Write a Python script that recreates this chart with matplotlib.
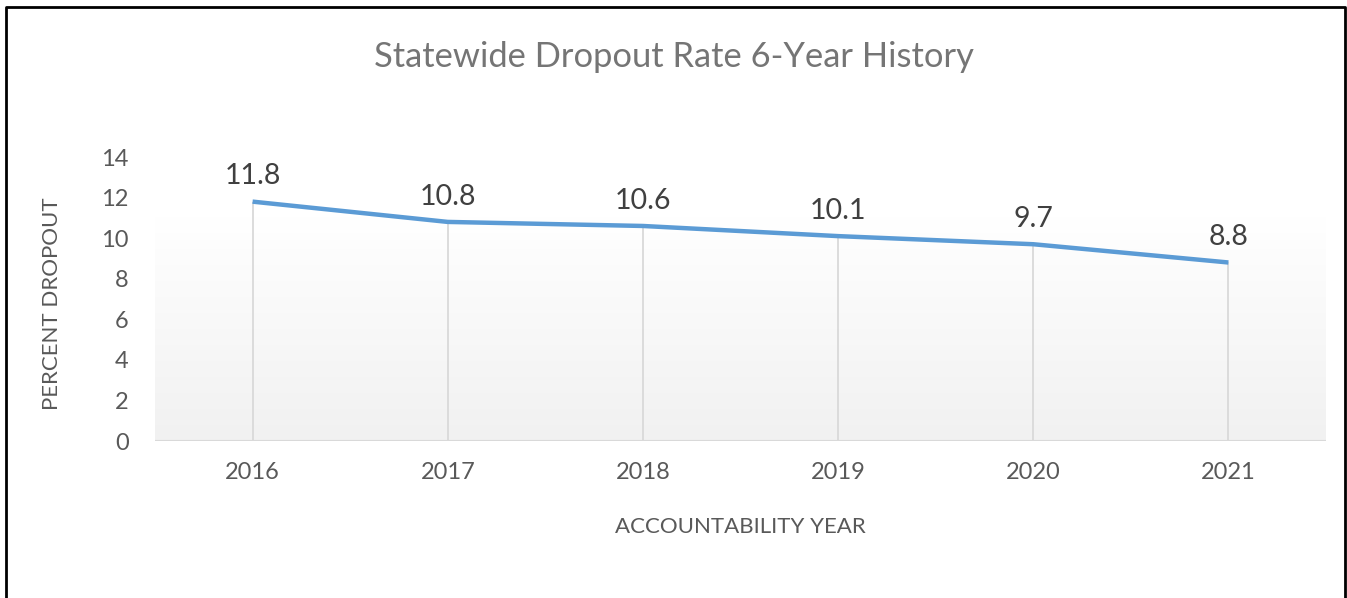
import matplotlib
matplotlib.use("Agg")
import matplotlib.pyplot as plt
import numpy as np
from matplotlib.lines import Line2D

years = ["2016", "2017", "2018", "2019", "2020", "2021"]
rates = [11.8, 10.8, 10.6, 10.1, 9.7, 8.8]
yticks = [0, 2, 4, 6, 8, 10, 12, 14]

plt.rcParams['font.family'] = ['Lato', 'DejaVu Sans']

W, H = 1347, 598
fig = plt.figure(figsize=(W / 100, H / 100), dpi=100)
ax = fig.add_axes([155 / W, 1 - 441 / H, (1326 - 155) / W, (441 - 157) / H])

x = np.arange(len(years))
ax.set_xlim(-0.5, len(years) - 0.5)
ax.set_ylim(0, 14)

# gradient fill in plot area
grad = np.linspace(0, 1, 256).reshape(-1, 1)
ax.imshow(grad, extent=[-0.5, len(years) - 0.5, 0, 11], origin='lower',
          cmap=matplotlib.colors.LinearSegmentedColormap.from_list('g', ['#f1f1f1', '#ffffff']),
          aspect='auto', zorder=0)

# drop lines
ax.vlines(x, 0, rates, colors='#d9d9d9', linewidth=1.3, zorder=1)
ax.axhline(0, color='#d9d9d9', linewidth=1.5, zorder=1)

ax.plot(x, rates, color='#5B9BD5', linewidth=3.2, solid_capstyle='butt', zorder=3)

for xi, r in zip(x, rates):
    ax.annotate(f"{r}", (xi, r), xytext=(0, 12.5), textcoords='offset points',
                ha='center', va='baseline', fontsize=20.5, color='#404040')

ax.set_xticks(x)
ax.set_xticklabels(years)
ax.set_yticks(yticks)
ax.tick_params(axis='both', length=0, labelsize=17, labelcolor='#595959')
ax.tick_params(axis='x', pad=15)
ax.tick_params(axis='y', pad=19)
for s in ax.spines.values():
    s.set_visible(False)

ax.set_xlabel("ACCOUNTABILITY YEAR", fontsize=16, color='#595959', va='baseline')
ax.xaxis.set_label_coords(0.5, (441 - 533) / 284)
ax.set_ylabel("PERCENT DROPOUT", fontsize=16, color='#595959', va='center', ha='center')
ax.yaxis.set_label_coords((52 - 155) / 1171, (441 - 303.5) / 284)

fig.text(0.5, 1 - 67 / H, "Statewide Dropout Rate 6-Year History", ha='center', va='baseline',
         fontsize=24.8, color='#757575')

# outer border (left, top, right)
bx0, bx1, by0 = 6.5 / W, 1344.5 / W, 1 - 6.5 / H
fig.add_artist(Line2D([bx0, bx0, bx1, bx1], [0, by0, by0, 0], transform=fig.transFigure,
                      color='black', linewidth=2))

fig.savefig("out.png", dpi=100)
